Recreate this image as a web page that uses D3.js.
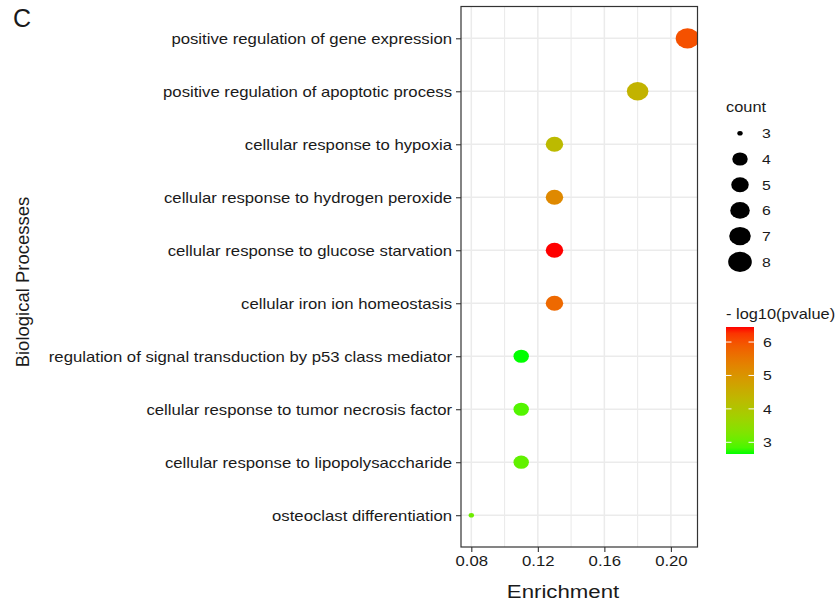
<!DOCTYPE html>
<html>
<head>
<meta charset="utf-8">
<script src="https://cdn.jsdelivr.net/npm/d3@7"></script>
<style>
  body { margin: 0; background: #fff; }
  svg text { font-family: "Liberation Sans", Arial, sans-serif; fill: #1a1a1a; }
</style>
</head>
<body>
<svg id="chart" width="838" height="605"></svg>
<script>
// data, top row first
var terms = [
  "positive regulation of gene expression",
  "positive regulation of apoptotic process",
  "cellular response to hypoxia",
  "cellular response to hydrogen peroxide",
  "cellular response to glucose starvation",
  "cellular iron ion homeostasis",
  "regulation of signal transduction by p53 class mediator",
  "cellular response to tumor necrosis factor",
  "cellular response to lipopolysaccharide",
  "osteoclast differentiation"
];
var enrichment = [0.21, 0.18, 0.13, 0.13, 0.13, 0.13, 0.11, 0.11, 0.11, 0.08];
var counts = [8, 7, 5, 5, 5, 5, 4, 4, 4, 3];
var logp = [6.0, 4.4, 4.25, 5.2, 6.45, 5.7, 2.65, 2.9, 3.0, 3.1];

var xTicks = [0.08, 0.12, 0.16, 0.20];
var xMinor = [0.10, 0.14, 0.18];
var countBreaks = [3, 4, 5, 6, 7, 8];
var colorBreaks = [3, 4, 5, 6];

var SX = 1.17; // the picture is a little wider than tall
var svg = d3.select("#chart");

var panel = {left: 461, right: 697.5, top: 6.5, bottom: 547};

var x = d3.scaleLinear()
    .domain([0.0738, 0.216])
    .range([panel.left, panel.right]);

var y = d3.scalePoint()
    .domain(terms)
    .range([panel.top, panel.bottom])
    .padding(0.6);

var rScale = d3.scaleLinear()
    .domain([3, 4, 8])
    .range([2.3, 6.6, 10.1]);

var pMin = d3.min(logp), pMax = d3.max(logp);
var color = d3.scaleLinear()
    .domain([pMin, pMax])
    .range(["#00ff00", "#ff0000"])
    .interpolate(d3.interpolateLab);

// panel grid
var grid = svg.append("g");
grid.selectAll(".minor")
    .data(xMinor)
  .enter().append("line")
    .attr("x1", d => x(d)).attr("x2", d => x(d))
    .attr("y1", panel.top).attr("y2", panel.bottom)
    .attr("stroke", "#ebebeb").attr("stroke-width", 1.1);
grid.selectAll(".vmajor")
    .data(xTicks)
  .enter().append("line")
    .attr("x1", d => x(d)).attr("x2", d => x(d))
    .attr("y1", panel.top).attr("y2", panel.bottom)
    .attr("stroke", "#ebebeb").attr("stroke-width", 1.5);
grid.selectAll(".hmajor")
    .data(terms)
  .enter().append("line")
    .attr("x1", panel.left).attr("x2", panel.right)
    .attr("y1", d => y(d)).attr("y2", d => y(d))
    .attr("stroke", "#ebebeb").attr("stroke-width", 1.5);

// points, clipped to the panel like ggplot does
svg.append("clipPath").attr("id", "clip")
  .append("rect")
    .attr("x", panel.left).attr("y", panel.top)
    .attr("width", panel.right - panel.left)
    .attr("height", panel.bottom - panel.top);

svg.append("g")
    .attr("clip-path", "url(#clip)")
  .selectAll("ellipse")
    .data(terms)
  .enter().append("ellipse")
    .attr("cx", (d, i) => x(enrichment[i]))
    .attr("cy", d => y(d))
    .attr("rx", (d, i) => rScale(counts[i]) * SX)
    .attr("ry", (d, i) => rScale(counts[i]))
    .attr("fill", (d, i) => color(logp[i]));

// border
svg.append("rect")
    .attr("x", panel.left).attr("y", panel.top)
    .attr("width", panel.right - panel.left)
    .attr("height", panel.bottom - panel.top)
    .attr("fill", "none")
    .attr("stroke", "#333")
    .attr("stroke-width", 1.2);

// axes
var yAxis = svg.append("g")
    .attr("transform", "translate(" + panel.left + ",0)")
    .call(d3.axisLeft(y).tickSize(5).tickSizeOuter(0));
yAxis.select(".domain").remove();
yAxis.selectAll("line").attr("stroke", "#333").attr("stroke-width", 1.1);
yAxis.selectAll("text")
    .attr("x", -9 / SX)
    .attr("dy", "0.36em")
    .attr("transform", "scale(" + SX + ",1)")
    .style("font-size", "14.3px")
    .attr("fill", "#1a1a1a");

var xAxis = svg.append("g")
    .attr("transform", "translate(0," + panel.bottom + ")")
    .call(d3.axisBottom(x).tickValues(xTicks).tickFormat(d3.format(".2f")).tickSize(5).tickSizeOuter(0));
xAxis.select(".domain").remove();
xAxis.selectAll("line").attr("stroke", "#333").attr("stroke-width", 1.1);
xAxis.selectAll("text")
    .attr("y", 19).attr("dy", 0)
    .attr("transform", "scale(" + SX + ",1)")
    .attr("x", 0)
    .style("font-size", "14.3px")
    .attr("fill", "#1a1a1a");

// titles
svg.append("text")
    .attr("transform", "translate(563,598) scale(" + SX + ",1)")
    .attr("text-anchor", "middle")
    .style("font-size", "19px")
    .text("Enrichment");

svg.append("text")
    .attr("transform", "translate(29,282) rotate(-90)")
    .attr("text-anchor", "middle")
    .style("font-size", "18.5px")
    .text("Biological Processes");

svg.append("text")
    .attr("x", 13).attr("y", 27)
    .style("font-size", "25px")
    .text("C");

// size legend
var sizeLeg = svg.append("g");
sizeLeg.append("text")
    .attr("transform", "translate(726,112) scale(" + SX + ",1)")
    .style("font-size", "14px")
    .text("count");
var sizeItem = sizeLeg.selectAll(".item")
    .data(countBreaks)
  .enter().append("g")
    .attr("transform", (d, i) => "translate(740," + (133.3 + i * 25.7) + ")");
sizeItem.append("ellipse")
    .attr("rx", d => rScale(d) * SX)
    .attr("ry", d => rScale(d))
    .attr("fill", "#000");
sizeItem.append("text")
    .attr("transform", "translate(22,5) scale(" + SX + ",1)")
    .style("font-size", "13.5px")
    .text(d => d);

// colour bar
var bar = {x: 726, width: 28, top: 327, bottom: 454};
var cbY = d3.scaleLinear()
    .domain([pMin, pMax])
    .range([bar.bottom, bar.top]);

var grad = svg.append("defs").append("linearGradient")
    .attr("id", "pgrad")
    .attr("x1", 0).attr("y1", 1).attr("x2", 0).attr("y2", 0);
grad.selectAll("stop")
    .data(d3.range(0, 1.0001, 0.05))
  .enter().append("stop")
    .attr("offset", d => d)
    .attr("stop-color", d => color(pMin + d * (pMax - pMin)));

svg.append("text")
    .attr("transform", "translate(726,319) scale(" + SX + ",1)")
    .style("font-size", "14px")
    .text("- log10(pvalue)");

svg.append("rect")
    .attr("x", bar.x).attr("y", bar.top)
    .attr("width", bar.width).attr("height", bar.bottom - bar.top)
    .attr("fill", "url(#pgrad)");

var cTick = svg.append("g").selectAll("g")
    .data(colorBreaks)
  .enter().append("g")
    .attr("transform", d => "translate(0," + cbY(d) + ")");
cTick.append("line")
    .attr("x1", bar.x).attr("x2", bar.x + 5.5)
    .attr("stroke", "#fff").attr("stroke-width", 1);
cTick.append("line")
    .attr("x1", bar.x + bar.width - 5.5).attr("x2", bar.x + bar.width)
    .attr("stroke", "#fff").attr("stroke-width", 1);
cTick.append("text")
    .attr("transform", "translate(763,5) scale(" + SX + ",1)")
    .style("font-size", "13.5px")
    .text(d => d);
</script>
</body>
</html>
